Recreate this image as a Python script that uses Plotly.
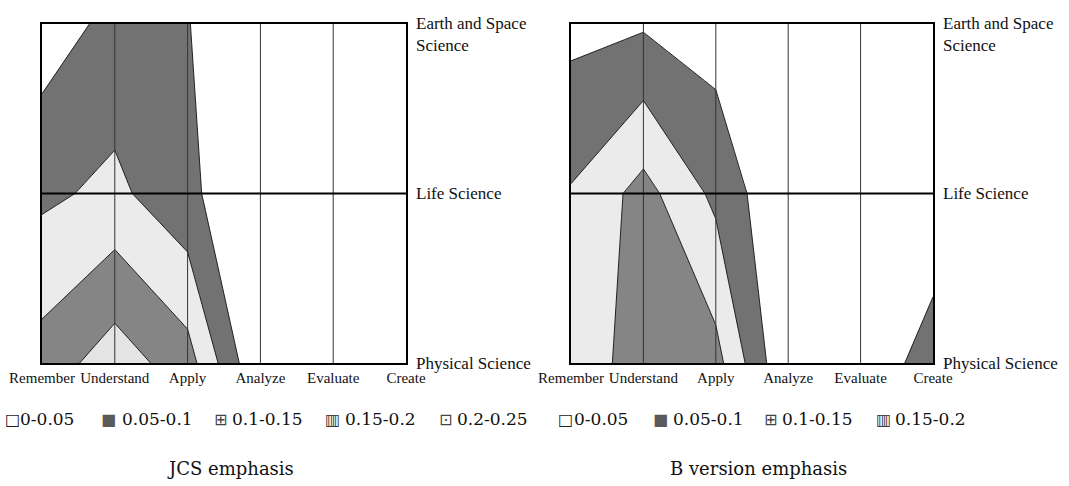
import plotly.graph_objects as go

# ---------------- data ----------------
bloom = ["Remember", "Understand", "Apply", "Analyze", "Evaluate", "Create"]
content = ["Physical Science", "Life Science", "Earth and Space<br>Science"]

jcs_physical = [0.171, 0.227, 0.172, 0.0, 0.0, 0.0]
jcs_life = [0.090, 0.112, 0.062, 0.0, 0.0, 0.0]
jcs_earth = [0.022, 0.065, 0.052, 0.0, 0.0, 0.0]

b_physical = [0.110, 0.180, 0.168, 0.0, 0.0, 0.082]
b_life = [0.104, 0.168, 0.088, 0.0, 0.0, 0.0]
b_earth = [0.035, 0.044, 0.026, 0.0, 0.0, 0.0]

jcs_ranges = ["0-0.05", "0.05-0.1", "0.1-0.15", "0.15-0.2", "0.2-0.25"]
b_ranges = ["0-0.05", "0.05-0.1", "0.1-0.15", "0.15-0.2"]
titles = ["JCS emphasis", "B version emphasis"]

# ---------------- style ----------------
W, H = 1069, 486
SERIF = "Liberation Serif"
WIDE_SERIF = "DejaVu Serif"
band_colors = ["#ffffff", "#727272", "#ebebeb", "#858585", "#e4e4e4"]
glyphs = ["□", "■", "⊞", "▥", "⊡"]
glyph_colors = ["#222222", "#5a5a5a", "#444444", "#3a3a3a", "#444444"]

# contour band colour scale (bands centred at k/4 for levels 0.05..0.2)
nb = len(band_colors)
cscale = []
for k, c in enumerate(band_colors):
    lo = 0.0 if k == 0 else (k - 0.5) / (nb - 1)
    hi = 1.0 if k == nb - 1 else (k + 0.5) / (nb - 1)
    cscale.append([lo, c])
    cscale.append([hi, c])

def px_dom(a, b, total):
    return [a / total, b / total]

plot_x = [(42, 406), (571, 933)]
ydom = [1 - 363 / H, 1 - 24 / H]

fig = go.Figure()
xi = list(range(len(bloom)))
yi = list(range(len(content)))

for n, (z, ax) in enumerate([([jcs_physical, jcs_life, jcs_earth], ""),
                            ([b_physical, b_life, b_earth], "2")]):
    fig.add_trace(go.Contour(
        x=xi, y=yi, z=z,
        xaxis="x" + ax, yaxis="y" + ax,
        autocontour=False,
        contours=dict(start=0.05, end=0.2, size=0.05, coloring="fill"),
        colorscale=cscale, showscale=False,
        line=dict(color="#111111", width=0.9, smoothing=0),
        hoverinfo="skip",
    ))

axis_common = dict(showgrid=False, zeroline=False, showline=True, mirror=True,
                   linecolor="black", linewidth=2.2, ticks="", automargin=False)
xtick = dict(tickvals=xi, ticktext=bloom, tickangle=0,
             tickfont=dict(family=SERIF, size=15, color="#111"))
fig.update_layout(
    width=W, height=H,
    margin=dict(l=0, r=0, t=0, b=0, autoexpand=False),
    paper_bgcolor="white", plot_bgcolor="white",
    showlegend=False,
    xaxis=dict(domain=px_dom(*plot_x[0], W), range=[0, len(bloom) - 1],
               anchor="y", **xtick, **axis_common),
    yaxis=dict(domain=ydom, range=[0, len(content) - 1], showticklabels=False,
               anchor="x", **axis_common),
    xaxis2=dict(domain=px_dom(*plot_x[1], W), range=[0, len(bloom) - 1],
                anchor="y2", **xtick, **axis_common),
    yaxis2=dict(domain=ydom, range=[0, len(content) - 1], showticklabels=False,
                anchor="x2", **axis_common),
)

shapes = []
annotations = []
for ax in ["", "2"]:
    for i in xi[1:-1]:
        shapes.append(dict(type="line", xref="x" + ax, yref="y" + ax + " domain",
                           x0=i, x1=i, y0=0, y1=1, layer="above",
                           line=dict(color="#333333", width=1)))
    for j in yi[1:-1]:
        shapes.append(dict(type="line", xref="x" + ax + " domain", yref="y" + ax,
                           x0=0, x1=1, y0=j, y1=j, layer="above",
                           line=dict(color="black", width=1.8)))
    for j, lab in enumerate(content):
        top = (j == len(content) - 1)
        annotations.append(dict(
            xref="x" + ax + " domain", yref="y" + ax, x=1, y=j,
            xanchor="left", yanchor="top" if top else "middle",
            xshift=8, yshift=12 if top else 0, showarrow=False, align="left",
            text=lab, font=dict(family=SERIF, size=17, color="#111")))

# legends (built as text rows beneath each panel)
legend_rows = [
    (jcs_ranges, [12, 108, 220, 332, 445], [18, 120, 230, 343, 455]),
    (b_ranges, [565, 660, 770, 883], [572, 671, 780, 893]),
]
ly = 1 - 419 / H
for ranges, gx, tx in legend_rows:
    for k, lab in enumerate(ranges):
        annotations.append(dict(xref="paper", yref="paper", x=gx[k] / W, y=ly,
                                xanchor="center", yanchor="middle", showarrow=False,
                                text=glyphs[k],
                                font=dict(family="DejaVu Sans", size=16, color=glyph_colors[k])))
        annotations.append(dict(xref="paper", yref="paper", x=tx[k] / W, y=ly,
                                xanchor="left", yanchor="middle", showarrow=False,
                                text=lab, font=dict(family=WIDE_SERIF, size=17, color="#111")))

for cx, t in zip([230, 758], titles):
    annotations.append(dict(xref="paper", yref="paper", x=cx / W, y=1 - 468 / H,
                            xanchor="center", yanchor="middle", showarrow=False,
                            text=t, font=dict(family=WIDE_SERIF, size=18, color="#111")))

fig.update_layout(shapes=shapes, annotations=annotations)
fig.write_html("out.html", config={"displayModeBar": False},
               post_script="document.body.style.margin='0';document.body.style.overflow='hidden';")
